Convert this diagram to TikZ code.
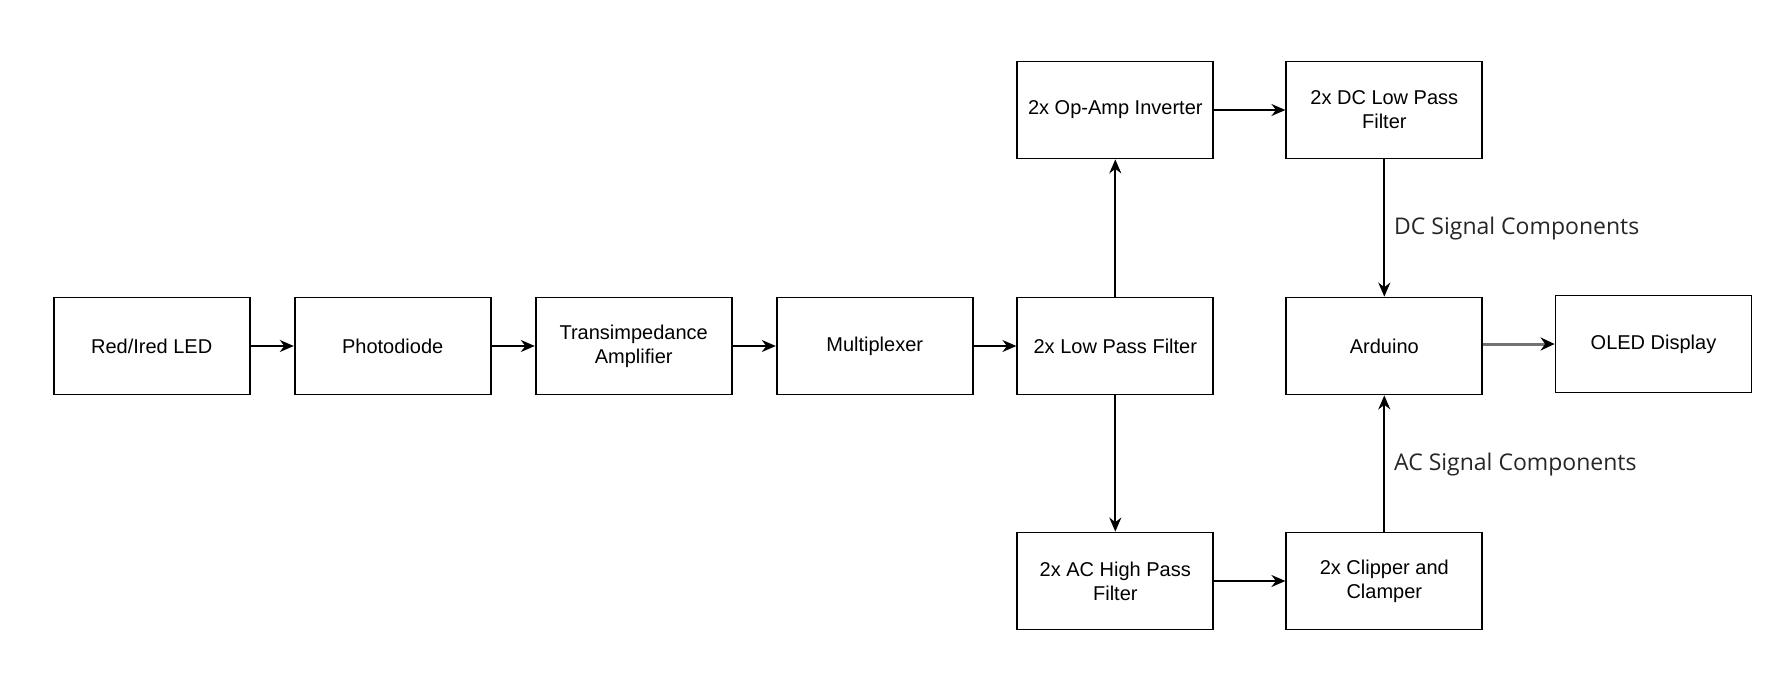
\documentclass[tikz,border=0pt]{standalone}
\usepackage{fontspec}
\setmainfont{Liberation Sans}
\newfontfamily\labelfont{Open Sans}
\usetikzlibrary{arrows.meta}
\begin{document}
\begin{tikzpicture}
        [x=1pt, y=-1pt,
        block/.style={rectangle, draw, line width=1.8pt, minimum width=196pt, minimum height=97pt, inner sep=0pt, align=center, font=\fontsize{20}{24}\selectfont},
        link/.style={line width=1.8pt, black, -{Stealth[length=14pt, width=12pt]}},
        outlink/.style={line width=3pt, black!55, -{Stealth[length=14pt, width=13pt, black]}},
        siglabel/.style={anchor=west, inner sep=0pt, yshift=-5pt, text=black!85, font=\labelfont\fontsize{23}{27}\selectfont}]

        \useasboundingbox (0,0) rectangle (1788,674);

        \node[block] (led) at (151.7,346) {Red/Ired LED};
        \node[block] (pd) at (392.7,346) {Photodiode};
        \node[block] (tia) at (633.7,346) {Transimpedance\\Amplifier};
        \node[block] (mux) at (874.7,346) {Multiplexer};
        \node[block] (lpf) at (1115.3,346) {2x Low Pass Filter};
        \node[block] (inv) at (1115.3,110) {2x Op-Amp Inverter};
        \node[block] (dclpf) at (1384.3,110) {2x DC Low Pass\\Filter};
        \node[block] (achpf) at (1115.3,581) {2x AC High Pass\\Filter};
        \node[block] (clip) at (1384.3,581) {2x Clipper and\\Clamper};
        \node[block] (ard) at (1384.3,346) {Arduino};
        \node[block] (oled) at (1653.5,344) {OLED Display};

        % signal chain
        \draw[link] (led) -- (pd);
        \draw[link] (pd) -- (tia);
        \draw[link] (tia) -- (mux);
        \draw[link] (mux) -- (lpf);

        % DC and AC branches
        \draw[link] (lpf) -- (inv);
        \draw[link] (inv) -- (dclpf);
        \draw[link] (lpf) -- (achpf);
        \draw[link] (achpf) -- (clip);
        \draw[link] (dclpf) -- (ard) node[pos=0.47, right=9pt, siglabel] {DC Signal Components};
        \draw[link] (clip) -- (ard) node[pos=0.53, right=9pt, siglabel] {AC Signal Components};

        % output
        \draw[outlink] (ard.east |- oled) -- (oled);

    \end{tikzpicture}
\end{document}
